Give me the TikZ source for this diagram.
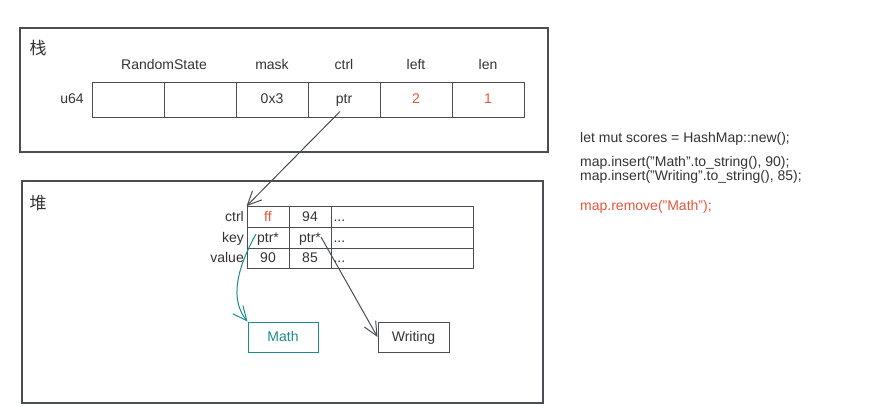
\documentclass[tikz,border=0pt]{standalone}
\usepackage{fontspec}
\setmainfont{Liberation Sans}
\newfontfamily\cjk{Noto Sans CJK SC}
\usetikzlibrary{arrows.meta}
\definecolor{linegray}{HTML}{4A4D52}
\definecolor{txtgray}{HTML}{333333}
\definecolor{hotred}{HTML}{E8553A}
\definecolor{teal}{HTML}{1B8C8C}
\tikzset{
  frame/.style={draw=linegray,line width=1.2pt},
  cell/.style={draw=linegray,line width=1pt,minimum width=72pt,minimum height=35pt,inner sep=0pt,text=txtgray,text height=10.5pt,text depth=2pt},
  slot/.style={draw=linegray,line width=1pt,minimum height=20.7pt,inner sep=0pt,text=txtgray,text height=10.5pt,text depth=2pt},
  lbl/.style={text=txtgray,inner sep=0pt,text height=10.5pt,text depth=2pt},
  code/.style={text=txtgray,inner sep=0pt,anchor=west},
  barb/.style={-{Straight Barb[length=14pt,width=13pt,line width=1pt]},line width=1pt}
}
\begin{document}
\begin{tikzpicture}[x=1pt,y=-1pt,font=\fontsize{14}{16}\selectfont]
\useasboundingbox (0,0) rectangle (891,405);
% stack
\draw[frame] (20,28) rectangle (548,152);
\node[inner sep=0pt,text=txtgray,font=\cjk\fontsize{17}{19}\selectfont] (stk) at (38,48) {栈};
\node[lbl] (u64) at (72,99) {u64};
\foreach \name/\x/\val/\col in {c1/128//txtgray,c2/200//txtgray,c3/272/0x3/txtgray,c4/344/ptr/txtgray,c5/416/2/hotred,c6/488/1/hotred}
  \node[cell,text=\col] (\name) at (\x,99.5) {\val};
\node[lbl] (hrs) at (164,65) {RandomState};
\node[lbl] (hmask) at (272,65) {mask};
\node[lbl] (hctrl) at (344,65) {ctrl};
\node[lbl] (hleft) at (416,65) {left};
\node[lbl] (hlen) at (488,65) {len};
% heap
\draw[frame] (22,181) rectangle (543,403);
\node[inner sep=0pt,text=txtgray,font=\cjk\fontsize{17}{19}\selectfont] (hp) at (38,203) {堆};
\foreach \row/\y/\a/\b/\acol in {ctrl/217/ff/94/hotred,key/238/ptr*/ptr*/txtgray,value/258.5/90/85/txtgray}{
  \node[slot,minimum width=42pt,text=\acol] (\row1) at (268,\y) {\a};
  \node[slot,minimum width=42pt] (\row2) at (310,\y) {\b};
  \node[slot,minimum width=142pt,text width=137pt,align=left] (\row3) at (402,\y) {...};
  \node[lbl,anchor=east] (\row lbl) at (244,\y) {\row};
}
\node[draw=teal,line width=1pt,minimum width=70pt,minimum height=30pt,text=teal,text height=10.5pt,text depth=2pt] (math) at (283,337) {Math};
\node[draw=linegray,line width=1pt,minimum width=71pt,minimum height=30pt,text=txtgray,text height=10.5pt,text depth=2pt] (writing) at (413.5,337) {Writing};
% pointers
\draw[barb,linegray] ([xshift=-4pt,yshift=6pt]c4.south) -- (ctrl1.north west);
\draw[barb,teal] ([xshift=-12pt,yshift=4pt]key1.center) .. controls (236,270) and (230,300) .. (math.north west);
\draw[barb,linegray] ([xshift=11pt,yshift=1pt]key2.center) -- (writing.west);
% code
\node[code] (code1) at (580,139) {let mut scores = HashMap::new();};
\node[code] (code2) at (580,163) {map.insert("Math".to\_string(), 90);};
\node[code] (code3) at (580,177) {map.insert("Writing".to\_string(), 85);};
\node[code,text=hotred] (code4) at (580,207) {map.remove("Math");};
\end{tikzpicture}
\end{document}
